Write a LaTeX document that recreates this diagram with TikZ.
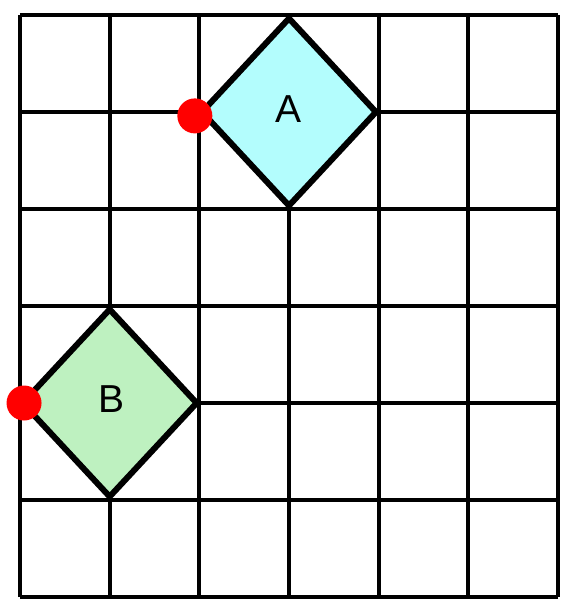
\documentclass[tikz,border=0pt]{standalone}
\usepackage{fontspec}
\setmainfont{Liberation Sans}
\definecolor{lightcyan}{HTML}{B3FDFD}
\definecolor{lightgreen}{HTML}{BEF1C0}
\begin{document}
\begin{tikzpicture}[x=89.67pt, y=97pt]
\useasboundingbox (-0.223,-0.072) rectangle (6.212,6.155) ;
\tikzset{
  square/.style={line width=6pt, line join=miter},
  marker/.style={fill=red, draw=none},
  lbl/.style={font=\fontsize{39}{39}\selectfont}
}

\draw [line width=4pt, xstep=89.67pt, ystep=97pt] (0,0) grid (6,6) ;

\draw [square, fill=lightcyan] (2.03,5) -- (3,5.965) -- (3.97,5) -- (3,4.035) -- cycle ; % carre A
\draw [square, fill=lightgreen] (0.03,2) -- (1,2.965) -- (1.97,2) -- (1,1.035) -- cycle ; % carre B
\node [lbl] (A) at (3,5.03) {A} ;
\node [lbl] (B) at (1.02,2.04) {B} ;

\fill [marker] (1.95,4.96) circle (17.5pt) ; % coin de A
\fill [marker] (0.045,2) circle (17.5pt) ;   % coin de B

\end{tikzpicture}
\end{document}
